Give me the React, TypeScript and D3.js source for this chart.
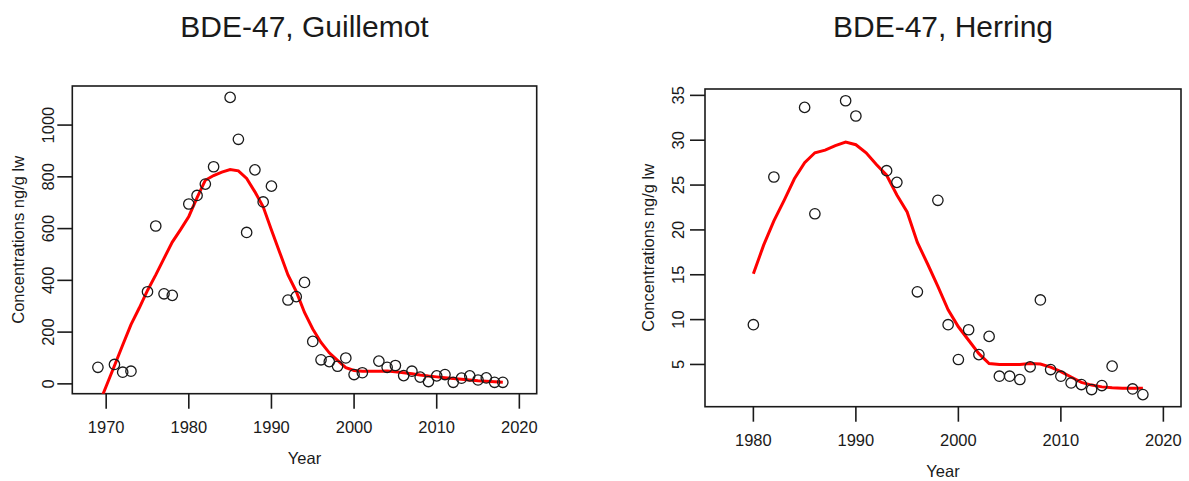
import * as d3 from "d3";

// Guillemot
const guilYears = [1969, 1971, 1972, 1973, 1975, 1976, 1977, 1978, 1980, 1981, 1982, 1983, 1985, 1986, 1987, 1988, 1989, 1990, 1992, 1993, 1994, 1995, 1996, 1997, 1998, 1999, 2000, 2001, 2003, 2004, 2005, 2006, 2007, 2008, 2009, 2010, 2011, 2012, 2013, 2014, 2015, 2016, 2017, 2018];
const guilValues = [64, 75, 45, 49, 356, 610, 348, 342, 695, 728, 772, 839, 1107, 945, 585, 827, 703, 764, 324, 337, 392, 164, 93, 86, 68, 100, 36, 43, 88, 64, 71, 32, 49, 26, 9, 31, 36, 6, 22, 31, 15, 23, 6, 6];
const guilFitYears = d3.range(1969, 2019);
const guilFit = [-89, -9, 70, 150, 229, 293, 361, 421, 485, 548, 596, 647, 720, 787, 805, 818, 828, 823, 794, 742, 684, 595, 508, 421, 357, 276, 212, 160, 120, 91, 63, 52, 49, 49, 49, 50, 47, 43, 39, 34, 30, 27, 24, 21, 18, 15, 12, 10, 8, 6];

// Herring
const herrYears = [1980, 1982, 1985, 1986, 1989, 1990, 1993, 1994, 1996, 1998, 1999, 2000, 2001, 2002, 2003, 2004, 2005, 2006, 2007, 2008, 2009, 2010, 2011, 2012, 2013, 2014, 2015, 2017, 2018];
const herrValues = [9.43, 25.9, 33.66, 21.8, 34.4, 32.7, 26.6, 25.3, 13.1, 23.3, 9.43, 5.55, 8.87, 6.1, 8.13, 3.69, 3.69, 3.32, 4.73, 12.19, 4.43, 3.69, 2.94, 2.76, 2.2, 2.65, 4.81, 2.27, 1.64];
const herrFitYears = d3.range(1980, 2019);
const herrFit = [15.1, 18.3, 21.0, 23.3, 25.7, 27.5, 28.6, 28.9, 29.4, 29.8, 29.5, 28.6, 27.3, 26.1, 23.9, 22.0, 18.6, 16.2, 13.7, 11.1, 9.2, 7.7, 6.2, 5.1, 5.0, 5.0, 5.0, 5.1, 5.05, 4.7, 4.2, 3.6, 3.0, 2.7, 2.5, 2.4, 2.35, 2.35, 2.35];

const guilXTicks = [1970, 1980, 1990, 2000, 2010, 2020];
const guilYTicks = [0, 200, 400, 600, 800, 1000];
const herrXTicks = [1980, 1990, 2000, 2010, 2020];
const herrYTicks = [5, 10, 15, 20, 25, 30, 35];

const FONT = "'Liberation Sans', Arial, sans-serif";
const INK = "#1a1a1a";

function Panel({ id, title, years, values, fitYears, fit, xDomain, yDomain, xTicks, yTicks, box, yLabOff }) {
  const x = d3.scaleLinear(xDomain, [box.x0, box.x1]);
  const y = d3.scaleLinear(yDomain, [box.y1, box.y0]);
  const line = d3.line<number>()
    .x((d, i) => x(fitYears[i]))
    .y(d => y(d));
  const midX = (box.x0 + box.x1) / 2;
  const midY = (box.y0 + box.y1) / 2;
  const tick = 15;

  return (
    <g>
      <defs>
        <clipPath id={id}>
          <rect x={box.x0} y={box.y0} width={box.x1 - box.x0} height={box.y1 - box.y0} />
        </clipPath>
      </defs>
      <text x={midX} y={37} textAnchor="middle" fontSize={30} fontFamily={FONT} fill={INK}>{title}</text>
      <rect x={box.x0} y={box.y0} width={box.x1 - box.x0} height={box.y1 - box.y0}
        fill="none" stroke={INK} strokeWidth={1.6} />
      {xTicks.map(t => (
        <g key={"x" + t}>
          <line x1={x(t)} x2={x(t)} y1={box.y1} y2={box.y1 + tick} stroke={INK} strokeWidth={1.6} />
          <text x={x(t)} y={box.y1 + 39} textAnchor="middle" fontSize={16.5} fontFamily={FONT} fill={INK}>{t}</text>
        </g>
      ))}
      {yTicks.map(t => (
        <g key={"y" + t}>
          <line x1={box.x0 - tick} x2={box.x0} y1={y(t)} y2={y(t)} stroke={INK} strokeWidth={1.6} />
          <text transform={`translate(${box.x0 - yLabOff + 6},${y(t)}) rotate(-90)`} textAnchor="middle"
            fontSize={16.5} fontFamily={FONT} fill={INK}>{t}</text>
        </g>
      ))}
      <text x={midX} y={box.y1 + 70} textAnchor="middle" fontSize={16.5} fontFamily={FONT} fill={INK}>Year</text>
      <text transform={`translate(${box.x0 - yLabOff - 30 + 6},${midY}) rotate(-90)`} textAnchor="middle"
        fontSize={16.5} fontFamily={FONT} fill={INK}>Concentrations ng/g lw</text>
      <path d={line(fit) ?? ""} fill="none" stroke="#ff0000" strokeWidth={3} clipPath={`url(#${id})`} />
      {years.map((yr, i) => (
        <circle key={i} cx={x(yr)} cy={y(values[i])} r={5.2} fill="none" stroke={INK} strokeWidth={1.3} />
      ))}
    </g>
  );
}

export default function App() {
  return (
    <svg width={1189} height={481} style={{ position: "absolute", left: 0, top: 0, background: "#fff" }}>
      <rect width={1189} height={481} fill="#fff" />
      <Panel id="clipG" title="BDE-47, Guillemot" years={guilYears} values={guilValues}
        fitYears={guilFitYears} fit={guilFit}
        xDomain={[1965.9, 2022.1]} yDomain={[-38, 1151]}
        xTicks={guilXTicks} yTicks={guilYTicks}
        box={{ x0: 72.3, x1: 536.7, y0: 86, y1: 393.7 }} yLabOff={24} />
      <Panel id="clipH" title="BDE-47, Herring" years={herrYears} values={herrValues}
        fitYears={herrFitYears} fit={herrFit}
        xDomain={[1975.28, 2021.72]} yDomain={[0.29, 35.71]}
        xTicks={herrXTicks} yTicks={herrYTicks}
        box={{ x0: 705, x1: 1181, y0: 89, y1: 406.7 }} yLabOff={27} />
    </svg>
  );
}
